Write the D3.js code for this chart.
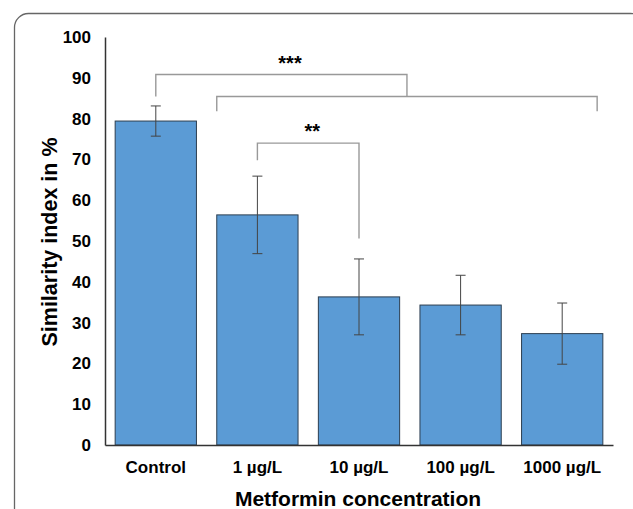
<!DOCTYPE html>
<html><head><meta charset="utf-8">
<script src="https://cdn.jsdelivr.net/npm/d3@7"></script>
<style>body{margin:0;background:#fff;}svg{display:block;font-family:"Liberation Sans",Arial,sans-serif;}</style>
</head><body>
<svg id="c" width="633" height="509"></svg>
<script>
const categories = ["Control", "1 µg/L", "10 µg/L", "100 µg/L", "1000 µg/L"];
const means = [79.4, 56.4, 36.3, 34.3, 27.3];
const errors = [3.7, 9.5, 9.3, 7.3, 7.5];
const yTicks = [0, 10, 20, 30, 40, 50, 60, 70, 80, 90, 100];

const svg = d3.select("#c");
svg.append("rect").attr("x", 14.5).attr("y", 13.5).attr("width", 630).attr("height", 600)
  .attr("rx", 14).attr("fill", "none").attr("stroke", "#666").attr("stroke-width", 1.3);

const x = d3.scaleBand().domain(categories).range([105, 613]).paddingInner(0.2).paddingOuter(0.1);
const y = d3.scaleLinear().domain([0, 100]).range([445, 37]);

// bars
svg.selectAll(".bar").data(categories).enter().append("rect")
  .attr("x", d => x(d)).attr("width", x.bandwidth())
  .attr("y", (d, i) => y(means[i])).attr("height", (d, i) => y(0) - y(means[i]))
  .attr("fill", "#5B9BD5").attr("stroke", "#2c3e50").attr("stroke-width", 1);

// error bars
const eg = svg.append("g").attr("stroke", "#444").attr("stroke-width", 1);
categories.forEach((c, i) => {
  const cx = x(c) + x.bandwidth() / 2;
  eg.append("line").attr("x1", cx).attr("x2", cx).attr("y1", y(means[i] + errors[i])).attr("y2", y(means[i] - errors[i]));
  [means[i] + errors[i], means[i] - errors[i]].forEach(v => {
    eg.append("line").attr("x1", cx - 5).attr("x2", cx + 5).attr("y1", y(v)).attr("y2", y(v));
  });
});

// axes
const yAxis = d3.axisLeft(y).tickValues(yTicks).tickSize(0).tickPadding(14);
const gy = svg.append("g").attr("transform", "translate(105,0)").call(yAxis);
gy.select(".domain").attr("stroke", "#333").attr("stroke-width", 1.5);
gy.selectAll("text").attr("font-size", 17).attr("font-weight", "bold").attr("fill", "#000");

const xAxis = d3.axisBottom(x).tickSize(0).tickPadding(16);
const gx = svg.append("g").attr("transform", "translate(0,445)").call(xAxis);
gx.select(".domain").attr("stroke", "#333").attr("stroke-width", 1.5);
gx.selectAll("text").attr("font-size", 17).attr("font-weight", "bold").attr("fill", "#000");

// axis titles
svg.append("text").attr("transform", "translate(57,242) rotate(-90)").attr("text-anchor", "middle")
  .attr("font-size", 21.5).attr("font-weight", "bold").text("Similarity index in %");
svg.append("text").attr("x", 358).attr("y", 506).attr("text-anchor", "middle")
  .attr("font-size", 21).attr("font-weight", "bold").text("Metformin concentration");

// significance brackets
const cxOf = c => x(c) + x.bandwidth() / 2;
const bg = svg.append("g").attr("fill", "none").attr("stroke", "#999").attr("stroke-width", 1.4);
const lowL = x(categories[1]), lowR = x(categories[4]) + x.bandwidth() * 0.93;
const midX = (lowL + lowR) / 2;
bg.append("path").attr("d", `M${lowL},${y(81.8)}V${y(85.4)}H${lowR}V${y(81.8)}`);
bg.append("path").attr("d", `M${cxOf(categories[0])},${y(85.4)}V${y(90.8)}H${midX}V${y(85.4)}`);
bg.append("path").attr("d", `M${cxOf(categories[1])},${y(69.8)}V${y(74)}H${cxOf(categories[2])}V${y(50.6)}`);
svg.append("text").attr("x", 290).attr("y", y(91.9)).attr("text-anchor", "middle")
  .attr("font-size", 20).attr("font-weight", "bold").text("***");
svg.append("text").attr("x", (cxOf(categories[1]) + cxOf(categories[2])) / 2 + 4).attr("y", y(75.2)).attr("text-anchor", "middle")
  .attr("font-size", 20).attr("font-weight", "bold").text("**");
</script>
</body></html>
